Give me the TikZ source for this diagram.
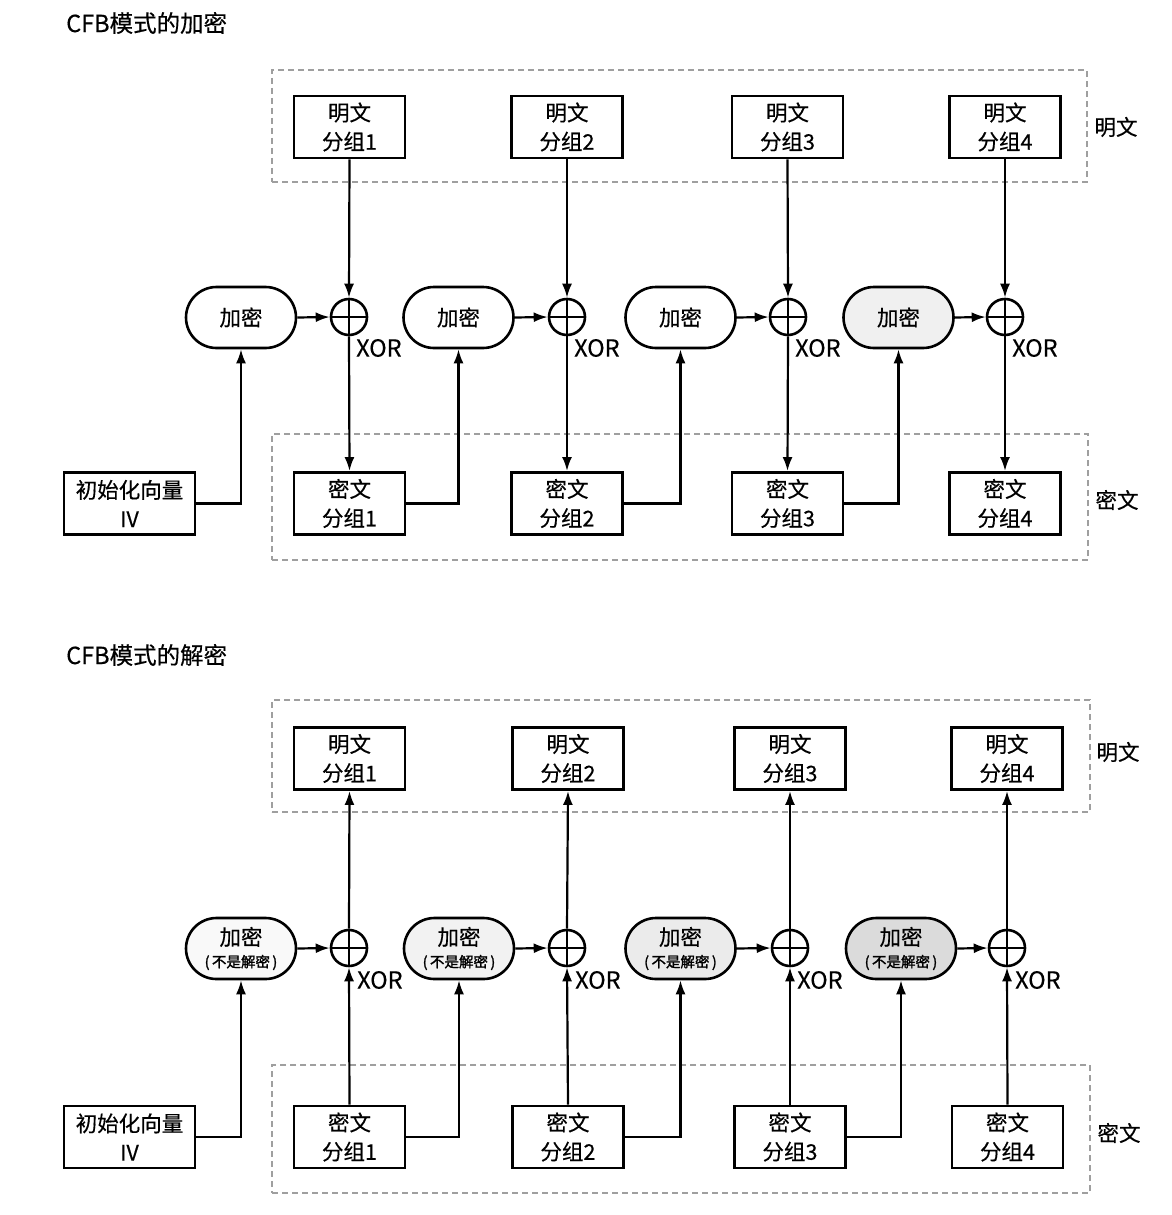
\documentclass[tikz,border=0pt]{standalone}
\usepackage{fontspec}
\setmainfont{Noto Sans CJK SC}[FakeBold=0.4]
\newfontfamily\cjkb{Noto Sans CJK SC}[FakeBold=1.6]
\newcommand\subtxt{\cjkb\fontsize{14.5}{16}\selectfont}
\usetikzlibrary{arrows.meta,shapes.misc}
\begin{document}
\begin{tikzpicture}[x=1pt,y=-1pt,
  blk/.style={draw, line width=2.9pt, minimum width=111pt, minimum height=62pt, align=center, inner sep=0pt, font=\fontsize{21.5}{29}\selectfont},
  enc/.style={draw, rounded rectangle, line width=2.6pt, minimum width=110pt, minimum height=61pt, align=center, inner sep=0pt, font=\fontsize{21.5}{26}\selectfont},
  xor/.style={draw, circle, line width=2.6pt, minimum size=36pt, inner sep=0pt},
  conn/.style={line width=2.2pt, -{Latex[length=14pt,width=10pt]}},
  grp/.style={draw=gray!75, line width=1.4pt, dash pattern=on 6pt off 4pt},
  lbl/.style={font=\fontsize{21.5}{24}\selectfont, inner sep=0pt},
  ttl/.style={font=\fontsize{23.5}{25}\selectfont, inner sep=0pt, anchor=west},
  xl/.style={font=\fontsize{23.5}{26}\selectfont, inner sep=0pt, anchor=west}
]
\useasboundingbox (0,0) rectangle (1171,1215);

% ================= Encryption =================
\node[ttl] (t1) at (66,23) {CFB模式的加密};
\node[grp, minimum width=815pt, minimum height=112pt, inner sep=0pt] (gp1) at (679.5,126) {};
\node[grp, minimum width=816pt, minimum height=126pt, inner sep=0pt] (gc1) at (680,497) {};
\node[lbl] (lp1) at (1116,127) {明文};
\node[lbl] (lc1) at (1117,500) {密文};

\node[blk] (p1) at (349.5,127) {明文\\分组1};
\node[blk] (p2) at (567,127) {明文\\分组2};
\node[blk] (p3) at (787.5,127) {明文\\分组3};
\node[blk] (p4) at (1005,127) {明文\\分组4};

\node[enc] (e1) at (241,317.5) {加密};
\node[enc] (e2) at (458.5,317.5) {加密};
\node[enc] (e3) at (680.5,317.5) {加密};
\node[enc, fill=gray!12] (e4) at (898.5,317.5) {加密};

\node[xor] (x1) at (349,317) {};
\node[xor] (x2) at (567,317) {};
\node[xor] (x3) at (788,317) {};
\node[xor] (x4) at (1005,317) {};
\foreach \k in {1,2,3,4}{
  \draw[line width=2.4pt] (x\k.west) -- (x\k.east);
}
\node[xl] (xl1) at (356,348) {XOR};
\node[xl] (xl2) at (574,348) {XOR};
\node[xl] (xl3) at (795,348) {XOR};
\node[xl] (xl4) at (1012,348) {XOR};

\node[blk] (c1) at (349.5,503.5) {密文\\分组1};
\node[blk] (c2) at (567,503.5) {密文\\分组2};
\node[blk] (c3) at (787.5,503.5) {密文\\分组3};
\node[blk] (c4) at (1005,503.5) {密文\\分组4};
\node[blk, minimum width=131pt] (iv1) at (129.5,503.5) {初始化向量\\IV};

\foreach \k in {1,2,3,4}{
  \draw[conn] (p\k.south) -- (x\k.north);
  \draw[line width=2.4pt] (x\k.north) -- (x\k.south);
  \draw[conn] (x\k.south) -- (c\k.north);
  \draw[conn] (e\k.east) -- (x\k.west);
}
\draw[conn] (iv1.east) -| (e1.south);
\draw[conn] (c1.east) -| (e2.south);
\draw[conn] (c2.east) -| (e3.south);
\draw[conn] (c3.east) -| (e4.south);

% ================= Decryption =================
\node[ttl] (t2) at (66,655) {CFB模式的解密};
\node[grp, minimum width=818pt, minimum height=112pt, inner sep=0pt] (gp2) at (681,756) {};
\node[grp, minimum width=818pt, minimum height=128pt, inner sep=0pt] (gc2) at (681,1129) {};
\node[lbl] (lp2) at (1118,752) {明文};
\node[lbl] (lc2) at (1119,1133) {密文};

\node[blk] (q1) at (349.5,758.5) {明文\\分组1};
\node[blk] (q2) at (568,758.5) {明文\\分组2};
\node[blk] (q3) at (790,758.5) {明文\\分组3};
\node[blk] (q4) at (1007,758.5) {明文\\分组4};

\node[enc, fill=gray!5] (f1) at (241,948.5) {加密\\[-4pt]{\subtxt (\,不是解密\,)}};
\node[enc, fill=gray!10] (f2) at (459,948.5) {加密\\[-4pt]{\subtxt (\,不是解密\,)}};
\node[enc, fill=gray!16] (f3) at (680.5,948.5) {加密\\[-4pt]{\subtxt (\,不是解密\,)}};
\node[enc, fill=gray!28] (f4) at (901,948.5) {加密\\[-4pt]{\subtxt (\,不是解密\,)}};

\node[xor] (y1) at (349,948) {};
\node[xor] (y2) at (567,948) {};
\node[xor] (y3) at (790,948) {};
\node[xor] (y4) at (1007,948) {};
\foreach \k in {1,2,3,4}{
  \draw[line width=2.4pt] (y\k.west) -- (y\k.east);
}
\node[xl] (yl1) at (357,980) {XOR};
\node[xl] (yl2) at (575,980) {XOR};
\node[xl] (yl3) at (797,980) {XOR};
\node[xl] (yl4) at (1015,980) {XOR};

\node[blk] (d1) at (349.5,1137) {密文\\分组1};
\node[blk] (d2) at (568,1137) {密文\\分组2};
\node[blk] (d3) at (790,1137) {密文\\分组3};
\node[blk] (d4) at (1007.5,1137) {密文\\分组4};
\node[blk, minimum width=131pt] (iv2) at (129.5,1137) {初始化向量\\IV};

\foreach \k in {1,2,3,4}{
  \draw[conn] (d\k.north) -- (y\k.south);
  \draw[line width=2.4pt] (y\k.north) -- (y\k.south);
  \draw[conn] (y\k.north) -- (q\k.south);
  \draw[conn] (f\k.east) -- (y\k.west);
}
\draw[conn] (iv2.east) -| (f1.south);
\draw[conn] (d1.east) -| (f2.south);
\draw[conn] (d2.east) -| (f3.south);
\draw[conn] (d3.east) -| (f4.south);
\end{tikzpicture}
\end{document}
